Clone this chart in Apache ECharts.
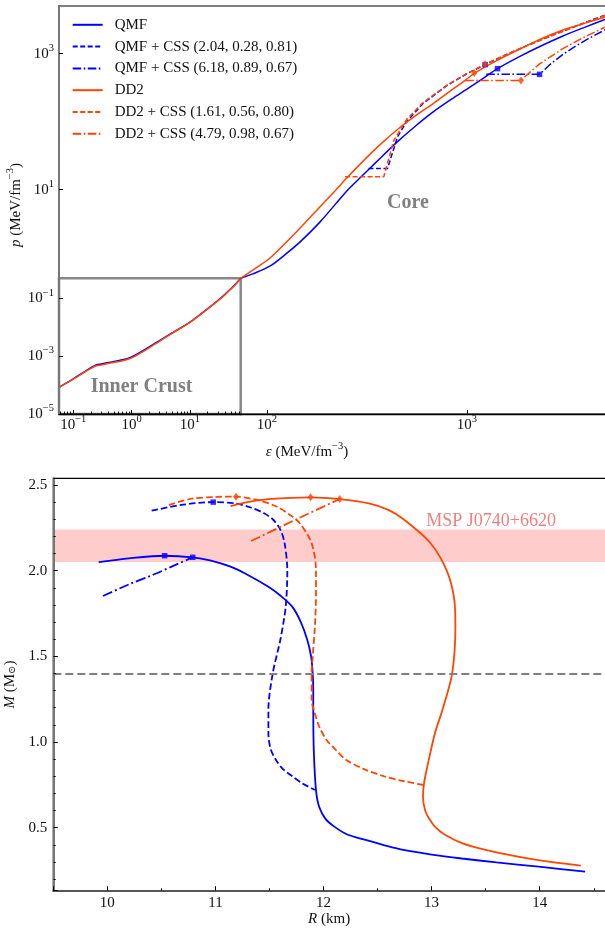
<!DOCTYPE html>
<html><head><meta charset="utf-8">
<script src="https://cdn.jsdelivr.net/npm/echarts@6.0.0/dist/echarts.min.js"></script>
<style>html,body{margin:0;padding:0;background:#fff}#c{width:605px;height:931px}</style>
</head><body><div id="c"></div>
<script>
// ---------------- data ----------------
const seriesNames = ['QMF', 'QMF + CSS (2.04, 0.28, 0.81)', 'QMF + CSS (6.18, 0.89, 0.67)',
                     'DD2', 'DD2 + CSS (1.61, 0.56, 0.80)', 'DD2 + CSS (4.79, 0.98, 0.67)'];

// tick values
const epsCrustTicks = [0.1, 1, 10];
const epsCrustMinor = [0.06,0.07,0.08,0.09,0.2,0.3,0.4,0.5,0.6,0.7,0.8,0.9,2,3,4,5,6,7,8,9,20,30,40,50,60,70];
const epsCoreTicks = [100, 1000];
const pCrustTicks = [1e-5, 1e-3, 1e-1];
const pCoreTicks = [10, 1000];

// EOS, inner crust part  [eps, p]
const qmfCrust = [[0.057,8.4e-5],[0.1,1.65e-4],[0.16,3.0e-4],[0.235,4.8e-4],[0.3,5.4e-4],[0.43,6.2e-4],[0.7,7.5e-4],[1,9.5e-4],[2,2.1e-3],[3,3.5e-3],[5,6.5e-3],[10,1.53e-2],[15,2.8e-2],[22,5.1e-2],[30,8.5e-2],[40,0.14],[48.5,0.206],[60,0.31],[74,0.5]];
const dd2Crust = [[0.057,8.4e-5],[0.1,1.6e-4],[0.16,2.9e-4],[0.235,4.5e-4],[0.3,5.0e-4],[0.43,5.8e-4],[0.7,7.0e-4],[1,8.8e-4],[2,1.95e-3],[3,3.3e-3],[5,6.3e-3],[10,1.5e-2],[15,2.75e-2],[22,5.0e-2],[30,8.3e-2],[40,0.135],[48.5,0.2],[60,0.3],[74,0.5]];

// EOS, core part [eps, p]
const qmfCore = [[74,0.5],[85,0.58],[104,0.76],[125,1.15],[148,1.76],[185,3.4],[251,9.6],[289,14.5],[350,25],[447,50],[550,85],[681,140],[850,220],[1000,300],[1200,430],[1422,601],[1800,880],[2300,1260],[3000,1800],[3900,2450],[4900,3170]];
const qmfCss1Core = [[322,20.5],[401,20.5],[450,60],[500,100],[600,182],[800,344],[1000,506],[1233,689],[1600,990],[2200,1480],[3000,2130],[4000,2940],[4900,3670]];
const qmfCss2Core = [[1250,495],[2307,495],[2600,690],[3000,960],[3500,1290],[4000,1630],[4900,2230]];
const dd2Core = [[74,0.5],[85,0.66],[104,1.0],[142,2.48],[180,5.2],[219,9.6],[252,15.1],[316,29.9],[380,50],[464,82.7],[570,130],[681,186],[850,300],[980,404],[1088,510],[1400,780],[1800,1130],[2300,1600],[3000,2200],[3900,2800],[4900,3430]];
const dd2Css1Core = [[246,15.5],[384,15.5],[430,52],[500,108],[600,188],[800,348],[1000,508],[1233,695],[1600,990],[2200,1470],[3000,2110],[4000,2910],[4900,3630]];
const dd2Css2Core = [[980,404],[1862,404],[2300,700],[3000,1170],[3500,1500],[4000,1840],[4900,2440]];
const eosSquares = [[1422,601],[1233,689],[2307,495]];
const eosDiamonds = [[1088,518],[1233,695],[1862,404]];

// Mass-radius [R, M]
const qmfMR = [[9.92,2.05],[10.2,2.072],[10.53,2.087],[10.79,2.078],[10.95,2.06],[11.14,2.023],[11.3,1.975],[11.49,1.906],[11.6,1.855],[11.71,1.79],[11.79,1.70],[11.85,1.595],[11.885,1.50],[11.90,1.40],[11.905,1.30],[11.905,1.187],[11.91,0.95],[11.93,0.72],[11.96,0.62],[12.02,0.55],[12.1,0.506],[12.22,0.46],[12.39,0.428],[12.55,0.40],[12.74,0.37],[13.0,0.343],[13.28,0.32],[13.6,0.297],[13.99,0.272],[14.42,0.243]];
const qmfCss1MR = [[10.41,2.35],[10.7,2.385],[10.98,2.40],[11.18,2.393],[11.32,2.37],[11.45,2.335],[11.53,2.30],[11.6,2.24],[11.64,2.16],[11.665,2.0],[11.65,1.79],[11.60,1.595],[11.53,1.40],[11.49,1.187],[11.49,1.05],[11.51,0.96],[11.56,0.895],[11.62,0.845],[11.71,0.80],[11.8,0.76],[11.92,0.72]];
const qmfCss2MR = [[9.96,1.852],[10.2,1.92],[10.42,1.975],[10.6,2.025],[10.79,2.078]];
const dd2MR = [[11.14,2.377],[11.3,2.40],[11.49,2.417],[11.88,2.428],[12.15,2.418],[12.42,2.393],[12.6,2.355],[12.74,2.30],[12.99,2.16],[13.14,2.0],[13.21,1.83],[13.22,1.673],[13.19,1.40],[13.10,1.187],[13.03,1.05],[12.96,0.856],[12.93,0.76],[12.92,0.68],[12.94,0.60],[12.98,0.55],[13.03,0.506],[13.12,0.46],[13.28,0.41],[13.5,0.37],[13.81,0.33],[14.1,0.30],[14.38,0.278]];
const dd2Css1MR = [[10.57,2.383],[10.78,2.42],[11.0,2.43],[11.19,2.432],[11.4,2.41],[11.57,2.373],[11.7,2.32],[11.78,2.277],[11.89,2.16],[11.93,2.0],[11.93,1.85],[11.92,1.673],[11.9,1.5],[11.89,1.40],[11.89,1.245],[11.92,1.167],[11.96,1.09],[12.03,1.01],[12.12,0.95],[12.21,0.895],[12.38,0.84],[12.56,0.80],[12.75,0.77],[12.92,0.75]];
const dd2Css2MR = [[11.33,2.173],[11.75,2.30],[12.15,2.418]];
const mrSquares = [[10.53,2.087],[10.79,2.078],[10.98,2.40]];
const mrDiamonds = [[11.19,2.432],[11.88,2.428],[12.15,2.418]];

const mspBand = [2.05, 2.24];
const canonicalMass = 1.4;

// ---------------- styling ----------------
const FONT = '"Liberation Serif", "DejaVu Serif", serif';
const BLUE = '#0000ff', ORANGE = '#ff4500';
const DASH = [5, 2.5], DASHDOT = [8.5, 2.5, 1.6, 2.5];
const DASH_B = [6.5, 3], DASHDOT_B = [10, 3, 2, 3];

function powLabel(v) {
  const e = Math.round(Math.log10(v));
  return '{b|10}{e|' + (e < 0 ? '\u2212' + (-e) : e) + '}';
}
const powRich = {
  b: {fontFamily: FONT, fontSize: 15, color: '#111', lineHeight: 22},
  e: {fontFamily: FONT, fontSize: 10.5, color: '#111', lineHeight: 10, verticalAlign: 'top'}
};

function logAxis(o) {
  return Object.assign({
    type: 'log', z: 5,
    axisLine: {show: true, onZero: false, lineStyle: {color: '#000', width: 1.3}},
    axisTick: {show: true, inside: true, length: 4, lineStyle: {color: '#000', width: 1}},
    axisLabel: {show: true, formatter: powLabel, rich: powRich},
    splitLine: {show: false}, minorTick: {show: false}, minorSplitLine: {show: false}
  }, o);
}

function line(name, data, color, dash, xi, yi, width, smooth) {
  return {type: 'line', name: name, data: data, xAxisIndex: xi, yAxisIndex: yi,
    symbol: 'none', showSymbol: false, smooth: smooth || false, silent: true, z: 3,
    lineStyle: {color: color, width: width, type: dash}, itemStyle: {color: color}};
}
function marks(data, symbol, size, color, xi, yi) {
  return {type: 'scatter', data: data, xAxisIndex: xi, yAxisIndex: yi, symbol: symbol,
    symbolSize: size, itemStyle: {color: color}, silent: true, z: 6};
}

const chart = echarts.init(document.getElementById('c'), null, {renderer: 'canvas'});

const option = {
  animation: false,
  backgroundColor: '#fff',
  grid: [
    {left: 59, top: 278.3, width: 181.7, height: 135.7, show: true, borderColor: '#888', borderWidth: 2.5, backgroundColor: 'transparent', outerBoundsMode: 'none'},
    {left: 240.7, top: 6, width: 364.3, height: 272.3, show: false, outerBoundsMode: 'none'},
    {left: 53.3, top: 478.3, width: 551.7, height: 412.4, show: false, outerBoundsMode: 'none'},
    {left: 59, top: 6, width: 552, height: 408, show: true, borderColor: '#000', borderWidth: 1.2, backgroundColor: 'transparent', outerBoundsMode: 'none'},
    {left: 53.3, top: 478.3, width: 558, height: 412.4, show: true, borderColor: '#000', borderWidth: 1.2, backgroundColor: 'transparent', outerBoundsMode: 'none'}
  ],
  xAxis: [
    logAxis({gridIndex: 0, min: 0.057, max: 74, position: 'bottom',
      axisTick: {show: true, inside: true, length: 4, customValues: epsCrustTicks, lineStyle: {color: '#000', width: 1}},
      axisLabel: {show: true, customValues: epsCrustTicks, formatter: powLabel, rich: powRich, margin: 0}}),
    logAxis({gridIndex: 1, min: 74, max: 4900, position: 'bottom', offset: 135.7,
      axisTick: {show: true, inside: true, length: 4, customValues: epsCoreTicks, lineStyle: {color: '#000', width: 1}},
      axisLabel: {show: true, customValues: epsCoreTicks, formatter: powLabel, rich: powRich, margin: 0}}),
    logAxis({gridIndex: 0, min: 0.057, max: 74, position: 'bottom',
      axisLine: {show: false},
      axisTick: {show: true, inside: true, length: 2.5, customValues: epsCrustMinor, lineStyle: {color: '#000', width: 0.9}},
      axisLabel: {show: false}}),
    {gridIndex: 2, type: 'value', min: 9.5, max: 14.604, position: 'bottom', z: 5,
      axisLine: {show: true, onZero: false, lineStyle: {color: '#555', width: 2}},
      axisTick: {show: true, inside: true, length: 4.5, lineStyle: {color: '#000', width: 1}},
      minorTick: {show: true, splitNumber: 2, length: 2.5, lineStyle: {color: '#000', width: 0.9}},
      axisLabel: {show: true, showMinLabel: false, showMaxLabel: false, margin: 5, fontFamily: FONT, fontSize: 15, color: '#111',
        formatter: function (v) { return String(Math.round(v)); }},
      splitLine: {show: false},
      name: '{i|R} (km)', nameLocation: 'middle', nameGap: 21,
      nameTextStyle: {fontFamily: FONT, fontSize: 15, color: '#111', rich: {i: {fontFamily: FONT, fontSize: 15, fontStyle: 'italic', color: '#111'}}}}
  ],
  yAxis: [
    logAxis({gridIndex: 0, min: 1e-5, max: 0.5, position: 'left',
      axisLine: {show: true, onZero: false, lineStyle: {color: '#777', width: 2}},
      axisTick: {show: true, inside: true, length: 4, customValues: pCrustTicks, lineStyle: {color: '#000', width: 1}},
      axisLabel: {show: true, customValues: pCrustTicks, formatter: powLabel, rich: powRich, margin: 5}}),
    logAxis({gridIndex: 1, min: 0.5, max: 5000, position: 'left', offset: 181.7,
      axisLine: {show: true, onZero: false, lineStyle: {color: '#777', width: 2}},
      axisTick: {show: true, inside: true, length: 4, customValues: pCoreTicks, lineStyle: {color: '#000', width: 1}},
      axisLabel: {show: true, customValues: pCoreTicks, formatter: powLabel, rich: powRich, margin: 5}}),
    {gridIndex: 2, type: 'value', min: 0.132, max: 2.539, position: 'left', z: 5,
      axisLine: {show: true, onZero: false, lineStyle: {color: '#777', width: 2}},
      axisTick: {show: true, inside: true, length: 4.5, lineStyle: {color: '#000', width: 1}},
      minorTick: {show: true, splitNumber: 5, length: 2.5, lineStyle: {color: '#000', width: 0.9}},
      axisLabel: {show: true, showMinLabel: false, showMaxLabel: false, margin: 6, fontFamily: FONT, fontSize: 15, color: '#111',
        formatter: function (v) { return v.toFixed(1); }},
      splitLine: {show: false},
      name: '{i|M} (M{s|\u2299})', nameLocation: 'middle', nameGap: 29,
      nameTextStyle: {fontFamily: FONT, fontSize: 15, color: '#111',
        rich: {i: {fontFamily: FONT, fontSize: 15, fontStyle: 'italic', color: '#111'},
               s: {fontFamily: FONT, fontSize: 10, color: '#111', verticalAlign: 'bottom', lineHeight: 10}}}}
  ],
  legend: {
    data: seriesNames, orient: 'vertical', left: 71.7, top: 17.3, padding: 0,
    itemWidth: 30, itemHeight: 14, itemGap: 6.8, selectedMode: false,
    itemStyle: {color: 'transparent', borderWidth: 0, opacity: 0},
    textStyle: {fontFamily: FONT, fontSize: 15, color: '#111', padding: [0, 0, 0, 7]}
  },
  series: [
    // core EOS (first so legend takes these styles)
    line(seriesNames[0], qmfCore, BLUE, 'solid', 1, 1, 1.5, 0.3),
    line(seriesNames[1], qmfCss1Core, BLUE, DASH, 1, 1, 1.5),
    line(seriesNames[2], qmfCss2Core, BLUE, DASHDOT, 1, 1, 1.5),
    line(seriesNames[3], dd2Core, ORANGE, 'solid', 1, 1, 1.5, 0.3),
    line(seriesNames[4], dd2Css1Core, ORANGE, DASH, 1, 1, 1.5),
    line(seriesNames[5], dd2Css2Core, ORANGE, DASHDOT, 1, 1, 1.5),
    marks(eosSquares, 'rect', 5.5, BLUE, 1, 1),
    marks(eosDiamonds, 'diamond', [6, 8], ORANGE, 1, 1),
    // crust EOS
    line('QMF crust', qmfCrust, BLUE, 'solid', 0, 0, 1.5, 0.3),
    line('DD2 crust', dd2Crust, ORANGE, 'solid', 0, 0, 1.5, 0.3),
    // mass-radius
    Object.assign(line(seriesNames[0], qmfMR, BLUE, 'solid', 3, 2, 1.8, 0.3), {
      markArea: {silent: true, itemStyle: {color: 'rgba(255,0,0,0.2)'}, data: [[{yAxis: mspBand[0]}, {yAxis: mspBand[1]}]]},
      markLine: {silent: true, symbol: ['none', 'none'], label: {show: false},
        lineStyle: {color: '#808080', type: [8, 4], width: 2}, data: [{yAxis: canonicalMass}]}
    }),
    line(seriesNames[1], qmfCss1MR, BLUE, DASH_B, 3, 2, 1.8, 0.3),
    line(seriesNames[2], qmfCss2MR, BLUE, DASHDOT_B, 3, 2, 1.8, 0.2),
    line(seriesNames[3], dd2MR, ORANGE, 'solid', 3, 2, 1.8, 0.3),
    line(seriesNames[4], dd2Css1MR, ORANGE, DASH_B, 3, 2, 1.8, 0.3),
    line(seriesNames[5], dd2Css2MR, ORANGE, DASHDOT_B, 3, 2, 1.8, 0.2),
    marks(mrSquares, 'rect', 5.5, BLUE, 3, 2),
    marks(mrDiamonds, 'diamond', [6, 8], ORANGE, 3, 2)
  ],
  graphic: [
    {type: 'text', x: 16, y: 205, rotation: Math.PI / 2, silent: true,
      style: {text: '{i|p}{r| (MeV/fm}{s|\u22123}{r|)}', align: 'center', verticalAlign: 'middle',
        rich: {i: {fontFamily: FONT, fontSize: 15, fontStyle: 'italic', fill: '#111', lineHeight: 22},
               r: {fontFamily: FONT, fontSize: 15, fill: '#111', lineHeight: 22},
               s: {fontFamily: FONT, fontSize: 10.5, fill: '#111', lineHeight: 10, verticalAlign: 'top'}}}},
    {type: 'text', x: 307, y: 452, silent: true,
      style: {text: '{i|\u03b5}{r| (MeV/fm}{s|\u22123}{r|)}', align: 'center', verticalAlign: 'middle',
        rich: {i: {fontFamily: FONT, fontSize: 15, fontStyle: 'italic', fill: '#111', lineHeight: 22},
               r: {fontFamily: FONT, fontSize: 15, fill: '#111', lineHeight: 22},
               s: {fontFamily: FONT, fontSize: 10.5, fill: '#111', lineHeight: 10, verticalAlign: 'top'}}}},
    {type: 'text', x: 141.5, y: 387, silent: true,
      style: {text: 'Inner Crust', font: 'bold 20px ' + FONT, fill: '#808080', align: 'center', verticalAlign: 'middle'}},
    {type: 'text', x: 408, y: 203, silent: true,
      style: {text: 'Core', font: 'bold 20px ' + FONT, fill: '#808080', align: 'center', verticalAlign: 'middle'}},
    {type: 'text', x: 556, y: 521, silent: true,
      style: {text: 'MSP J0740+6620', font: '18px ' + FONT, fill: '#f08080', align: 'right', verticalAlign: 'middle'}}
  ]
};
chart.setOption(option);
</script></body></html>
